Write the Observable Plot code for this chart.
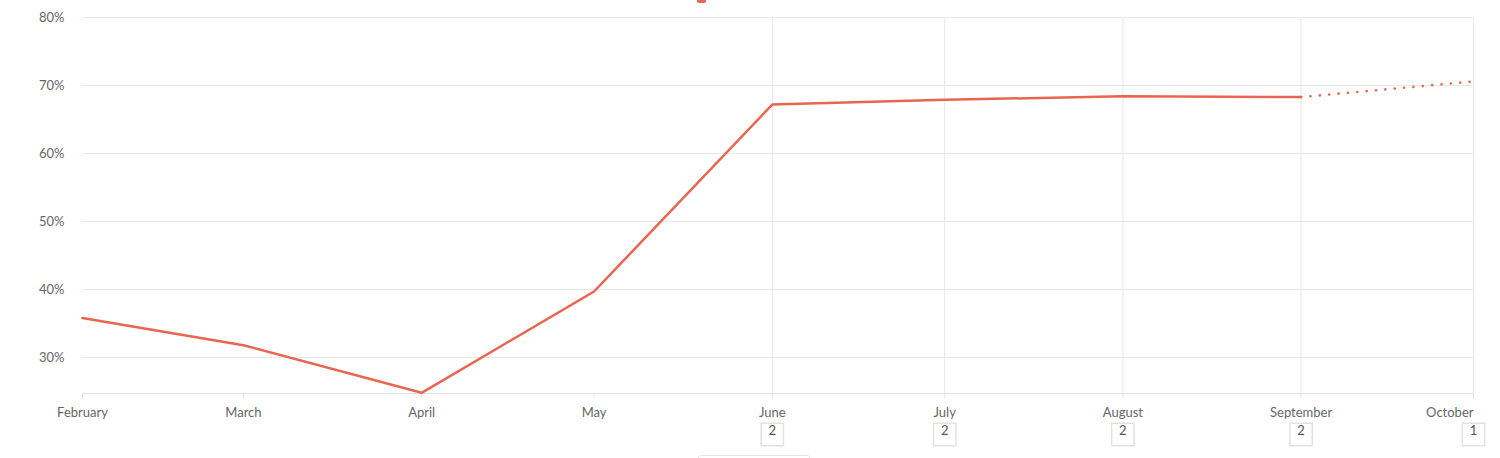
<!DOCTYPE html>
<html>
<head>
<meta charset="utf-8">
<script src="https://cdn.jsdelivr.net/npm/d3@7"></script>
<script src="https://cdn.jsdelivr.net/npm/@observablehq/plot@0.6"></script>
<style>
  html, body { margin: 0; padding: 0; background: #fff; overflow: hidden; }
  #wrap { position: relative; width: 1500px; height: 458px; }
  #legendMark { position: absolute; left: 697px; top: -6px; width: 9px; height: 9px; background: #e9654f; border-radius: 2px; }
  #bottomBar { position: absolute; left: 698px; top: 455px; width: 112px; height: 10px; border: 1px solid #e4e4e4; border-radius: 3px; box-sizing: border-box; }
</style>
</head>
<body>
<div id="wrap">
  <div id="chart"></div>
  <div id="legendMark"></div>
  <div id="bottomBar"></div>
</div>
<script>
const months = ["2023-02-01","2023-03-01","2023-04-01","2023-05-01","2023-06-01","2023-07-01","2023-08-01","2023-09-01","2023-10-01"];
const monthNames = ["February","March","April","May","June","July","August","September","October"];
const rates = [35.8, 31.8, 24.8, 39.7, 67.2, 67.9, 68.4, 68.3, 70.6];
const countMonths = ["2023-06-01","2023-07-01","2023-08-01","2023-09-01","2023-10-01"];
const counts = [2, 2, 2, 2, 1];
const yTicks = [30, 40, 50, 60, 70, 80];

const parse = d3.utcParse("%Y-%m-%d");
const pts = months.map((m, i) => ({date: parse(m), v: rates[i]}));
const solid = pts.slice(0, 8);
const dotted = pts.slice(7);
const countData = countMonths.map((m, i) => ({date: parse(m), n: counts[i]}));
const tickDates = months.map(parse);
const nameOf = new Map(tickDates.map((d, i) => [+d, monthNames[i]]));

const red = "#e9654f";
const plot = Plot.plot({
  width: 1500,
  height: 458,
  marginLeft: 82,
  marginRight: 27,
  marginTop: 17,
  marginBottom: 65,
  style: {fontFamily: "Lato, 'Open Sans', sans-serif", fontSize: "13px", color: "#666", background: "#fff"},
  x: {type: "utc", domain: [tickDates[0], tickDates[tickDates.length - 1]]},
  y: {domain: [24.7, 80]},
  marks: [
    Plot.gridY(yTicks, {stroke: "#e8e8e8", strokeOpacity: 1}),
    Plot.ruleX(countData, {x: "date", stroke: "#e8e8e8"}),
    Plot.frame({anchor: "bottom", stroke: "#e2e2e2"}),
    Plot.axisY(yTicks, {tickSize: 0, tickPadding: 18, tickFormat: d => d + "%", label: null, fill: "#666"}),
    Plot.axisX(tickDates.slice(0, 8), {tickSize: 5, tickPadding: 9, stroke: "#e2e2e2", fill: "#666", tickFormat: d => nameOf.get(+d), label: null}),
    Plot.axisX(tickDates.slice(8), {tickSize: 5, tickPadding: 9, stroke: "#e2e2e2", fill: "#666", textAnchor: "end", tickFormat: d => nameOf.get(+d), label: null}),
    Plot.line(solid, {x: "date", y: "v", stroke: red, strokeWidth: 2.5}),
    Plot.line(dotted, {x: "date", y: "v", stroke: red, strokeWidth: 2.6, strokeDasharray: "0.1 9.3", strokeLinecap: "round"}),
    Plot.dot(countData, {x: "date", frameAnchor: "bottom", dy: 41, symbol: "square", r: 12.6, fill: "#fff", stroke: "#e2e2e2"}),
    Plot.text(countData, {x: "date", frameAnchor: "bottom", dy: 41, text: d => String(d.n), fill: "#555", fontSize: 13})
  ]
});
document.getElementById("chart").appendChild(plot);
</script>
</body>
</html>
